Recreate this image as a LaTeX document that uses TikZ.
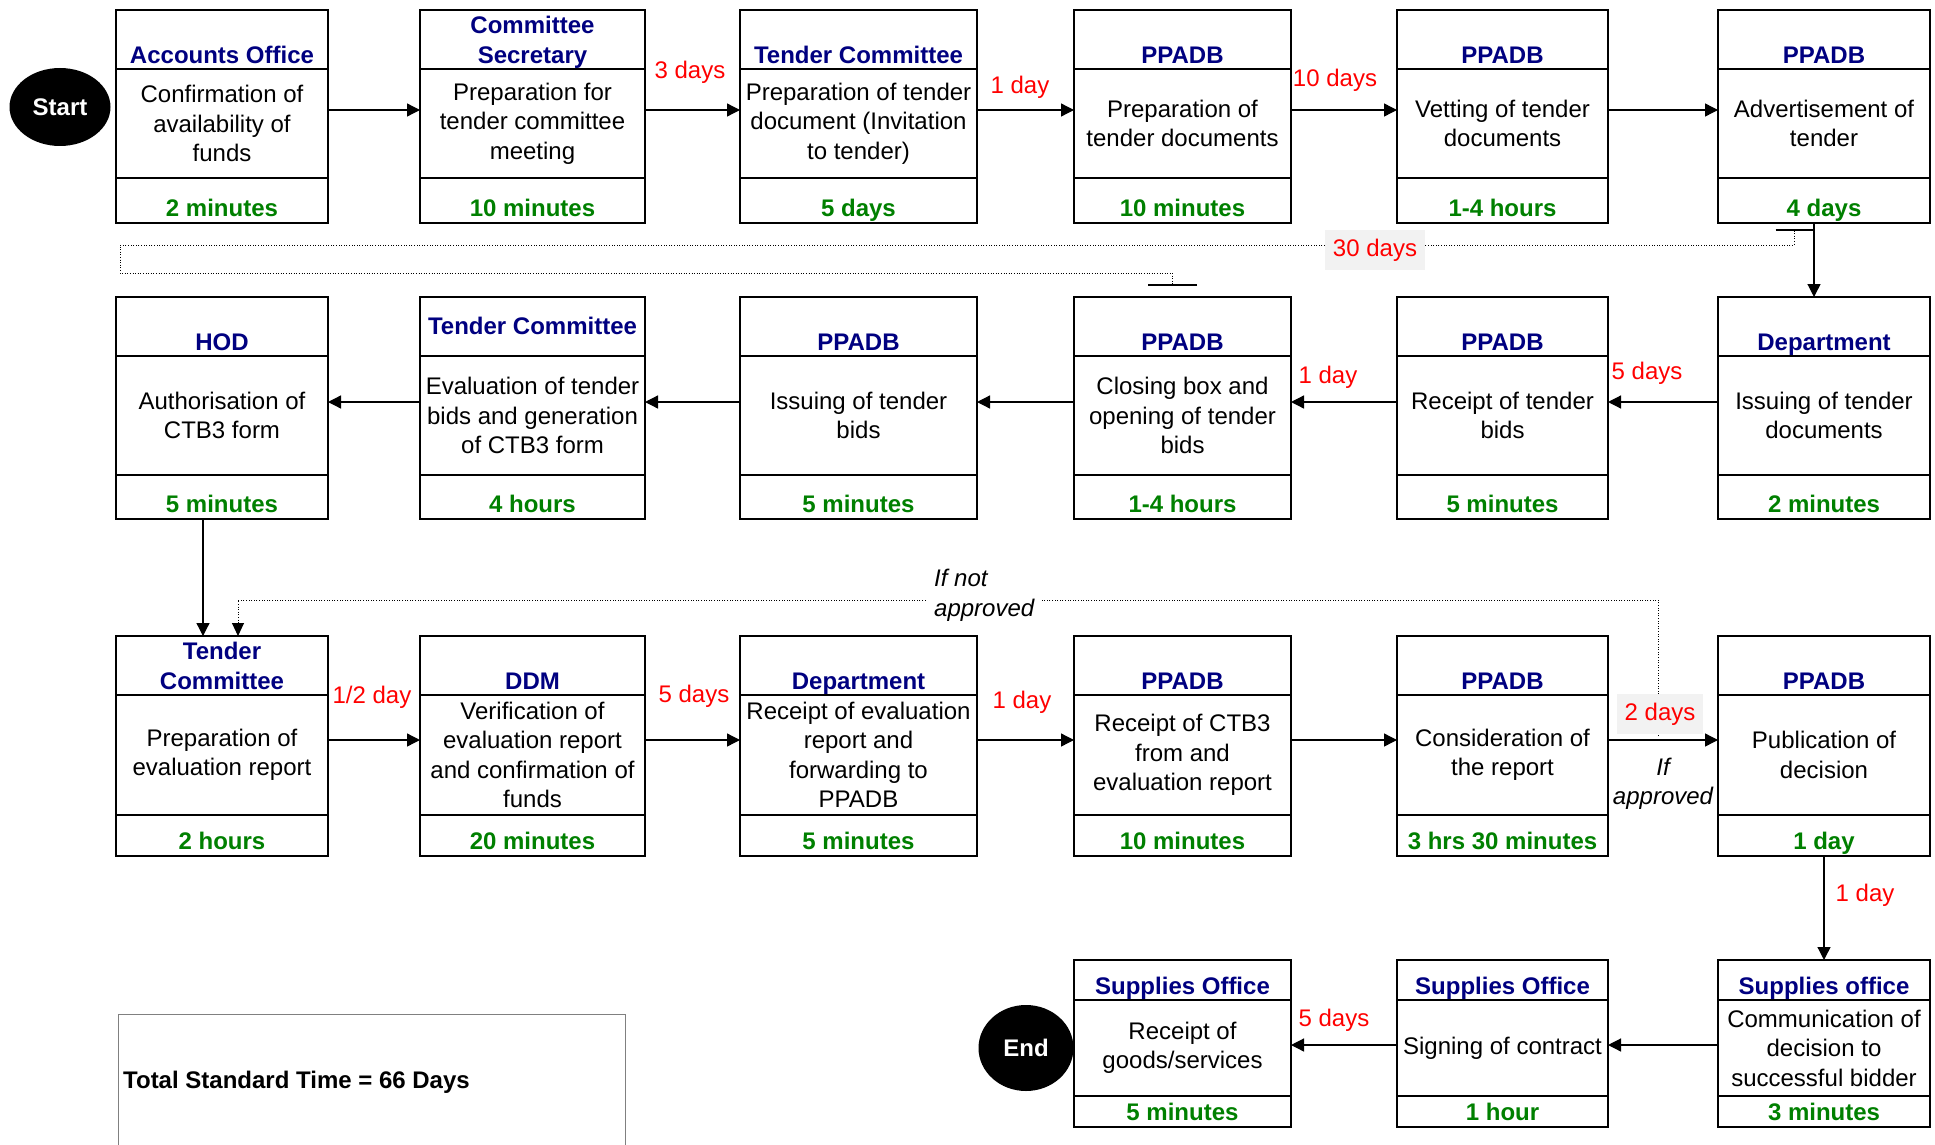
\documentclass[tikz,border=0pt]{standalone}
\usepackage{fontspec}
\setmainfont{Liberation Sans}
\usetikzlibrary{arrows.meta,shapes.geometric,calc}
\definecolor{hdrblue}{RGB}{0,0,128}
\definecolor{ftrgreen}{RGB}{0,128,0}
\definecolor{lblred}{RGB}{255,0,0}
\definecolor{lblbg}{RGB}{242,242,242}

\def\rowAtop{10}\def\rowAhb{69}\def\rowAbb{178}\def\rowAbot{223}
\def\rowBtop{297}\def\rowBhb{356}\def\rowBbb{475}\def\rowBbot{519}
\def\rowCtop{636}\def\rowChb{695}\def\rowCbb{815}\def\rowCbot{856}
\def\rowDtop{960}\def\rowDhb{1000}\def\rowDbb{1096}\def\rowDbot{1127}

\tikzset{
 cell/.style={draw, line width=2.5pt, inner sep=0pt, outer sep=0pt, anchor=north west},
 bodytext/.style={align=center, font=\fontsize{24}{29.5}\selectfont},
 hdrtext/.style={align=center, inner sep=0pt, anchor=south, text depth=0pt, text=hdrblue, font=\fontsize{24}{30}\selectfont\bfseries},
 ftrtext/.style={inner sep=0pt, anchor=south, text depth=0pt, text=ftrgreen, font=\fontsize{24}{29}\selectfont\bfseries},
 arr/.style={line width=1.3pt, -{Triangle[length=13pt,width=13pt]}},
 lbl/.style={text=lblred, font=\fontsize{24}{29}\selectfont, inner sep=0pt},
 greylbl/.style={lbl, fill=lblbg, inner xsep=8pt, inner ysep=9pt},
 dotline/.style={line width=1pt, dash pattern=on 1pt off 1.6pt},
 note/.style={font=\fontsize{24}{29.5}\selectfont\itshape, inner sep=0pt},
 terminal/.style={ellipse, fill=black, text=white, font=\fontsize{24}{29}\selectfont\bfseries, inner sep=0pt},
}

\newcommand\procbox[8][5]{%
 \edef\pbT{\csname row#5top\endcsname}%
 \edef\pbH{\csname row#5hb\endcsname}%
 \edef\pbB{\csname row#5bb\endcsname}%
 \edef\pbE{\csname row#5bot\endcsname}%
 \pgfmathsetmacro\pbW{#4-#3}%
 \pgfmathsetmacro\pbHh{\pbH-\pbT}%
 \pgfmathsetmacro\pbHb{\pbB-\pbH}%
 \pgfmathsetmacro\pbHf{\pbE-\pbB}%
 \node[cell, minimum width=\pbW pt, minimum height=\pbHh pt] (#2-h) at (#3,\pbT) {};
 \node[cell, bodytext, minimum width=\pbW pt, minimum height=\pbHb pt] (#2) at (#3,\pbH) {#7};
 \node[cell, minimum width=\pbW pt, minimum height=\pbHf pt] (#2-f) at (#3,\pbB) {};
 \node[hdrtext] at ([yshift=#1pt]#2-h.south) {#6};
 \node[ftrtext] at ([yshift=6pt]#2-f.south) {#8};
}

\begin{document}
\begin{tikzpicture}[x=1pt,y=-1pt]
\fill[white] (0,0) rectangle (1935,1145);
\useasboundingbox (0,0) rectangle (1935,1145);

% row coordinates for connectors
\coordinate (r1) at (0,110);
\coordinate (r2) at (0,402);
\coordinate (r3) at (0,740);
\coordinate (r4) at (0,1045);

% terminals
\node[terminal, minimum width=101pt, minimum height=78pt] (start) at (60,107) {Start};
\node[terminal, minimum width=95pt, minimum height=86pt] (end) at (1026,1048) {End};

% row 1
\procbox{A1}{116}{328}{A}{Accounts Office}{Confirmation of\\availability of\\funds}{2 minutes}
\procbox{A2}{420}{645}{A}{Committee\\Secretary}{Preparation for\\tender committee\\meeting}{10 minutes}
\procbox{A3}{740}{977}{A}{Tender Committee}{Preparation of tender\\document (Invitation\\to tender)}{5 days}
\procbox{A4}{1074}{1291}{A}{PPADB}{Preparation of\\tender documents}{10 minutes}
\procbox{A5}{1397}{1608}{A}{PPADB}{Vetting of tender\\documents}{1-4 hours}
\procbox{A6}{1718}{1930}{A}{PPADB}{Advertisement of\\tender}{4 days}

% row 2
\procbox{B1}{116}{328}{B}{HOD}{Authorisation of\\CTB3 form}{5 minutes}
\procbox[21]{B2}{420}{645}{B}{Tender Committee}{Evaluation of tender\\bids and generation\\of CTB3 form}{4 hours}
\procbox{B3}{740}{977}{B}{PPADB}{Issuing of tender\\bids}{5 minutes}
\procbox{B4}{1074}{1291}{B}{PPADB}{Closing box and\\opening of tender\\bids}{1-4 hours}
\procbox{B5}{1397}{1608}{B}{PPADB}{Receipt of tender\\bids}{5 minutes}
\procbox{B6}{1718}{1930}{B}{Department}{Issuing of tender\\documents}{2 minutes}

% row 3
\procbox{C1}{116}{328}{C}{Tender\\Committee}{Preparation of\\evaluation report}{2 hours}
\procbox{C2}{420}{645}{C}{DDM}{Verification of\\evaluation report\\and confirmation of\\funds}{20 minutes}
\procbox{C3}{740}{977}{C}{Department}{Receipt of evaluation\\report and\\forwarding to\\PPADB}{5 minutes}
\procbox{C4}{1074}{1291}{C}{PPADB}{Receipt of CTB3\\from and\\evaluation report}{10 minutes}
\procbox{C5}{1397}{1608}{C}{PPADB}{Consideration of\\the report}{3 hrs 30 minutes}
\procbox{C6}{1718}{1930}{C}{PPADB}{Publication of\\decision}{1 day}

% row 4
\procbox{D4}{1074}{1291}{D}{Supplies Office}{Receipt of\\goods/services}{5 minutes}
\procbox{D5}{1397}{1608}{D}{Supplies Office}{Signing of contract}{1 hour}
\procbox{D6}{1718}{1930}{D}{Supplies office}{Communication of\\decision to\\successful bidder}{3 minutes}

% row 1 connectors
\draw[arr] (A1.east |- r1) -- (A2.west |- r1);
\draw[arr] (A2.east |- r1) -- (A3.west |- r1);
\draw[arr] (A3.east |- r1) -- (A4.west |- r1);
\draw[arr] (A4.east |- r1) -- (A5.west |- r1);
\draw[arr] (A5.east |- r1) -- (A6.west |- r1);
\draw[arr] ([xshift=-10pt]A6-f.south) -- ([xshift=-10pt]B6-h.north);

% row 2 connectors
\draw[arr] (B6.west |- r2) -- (B5.east |- r2);
\draw[arr] (B5.west |- r2) -- (B4.east |- r2);
\draw[arr] (B4.west |- r2) -- (B3.east |- r2);
\draw[arr] (B3.west |- r2) -- (B2.east |- r2);
\draw[arr] (B2.west |- r2) -- (B1.east |- r2);
\draw[arr] ([xshift=-19pt]B1-f.south) -- ([xshift=-19pt]C1-h.north);

% row 3 connectors
\draw[arr] (C1.east |- r3) -- (C2.west |- r3);
\draw[arr] (C2.east |- r3) -- (C3.west |- r3);
\draw[arr] (C3.east |- r3) -- (C4.west |- r3);
\draw[arr] (C4.east |- r3) -- (C5.west |- r3);
\draw[arr] (C5.east |- r3) -- (C6.west |- r3);
\draw[arr] (C6-f.south) -- (D6-h.north);

% row 4 connectors
\draw[arr] (D6.west |- r4) -- (D5.east |- r4);
\draw[arr] (D5.west |- r4) -- (D4.east |- r4);

% 30 days dotted connector
\draw[dotline, {Bar[width=37pt,line width=2pt]}-{Bar[width=49pt,line width=2pt]}]
  ([xshift=-30pt,yshift=-6pt]A6-f.south) -- ++(0,16) -| (120,273) -| ([xshift=-10pt,yshift=11pt]B4-h.north);

% if not approved dotted connector
\coordinate (ifna) at (1658,736);
\draw[dotline, -{Triangle[length=13pt,width=12pt]}] (ifna) |- (238,600) -- ([xshift=16pt]C1-h.north);
\node[note, fill=white, align=left, anchor=north west, inner xsep=8pt, inner ysep=0pt] (ifnot) at (926,569) {If not\\approved};
\node[note, align=center] (ifapp) at (1663,784) {If\\approved};

% delay labels
\node[lbl] (l1) at (690,72) {3 days};
\node[lbl] (l2) at (1020,87) {1 day};
\node[lbl] (l3) at (1335,80) {10 days};
\node[greylbl] (l30) at (1375,250) {30 days};
\node[lbl] (l4) at (1647,373) {5 days};
\node[lbl] (l5) at (1328,377) {1 day};
\node[lbl] (l6) at (372,697) {1/2 day};
\node[lbl] (l7) at (694,696) {5 days};
\node[lbl] (l8) at (1022,702) {1 day};
\node[greylbl] (l9) at (1660,714) {2 days};
\node[lbl] (l10) at (1865,895) {1 day};
\node[lbl] (l11) at (1334,1020) {5 days};

% total
\node[draw=gray, line width=1pt, anchor=north west, minimum width=507pt, minimum height=170pt, inner sep=0pt] (totalbox) at (118,1014) {};
\node[font=\fontsize{24}{29}\selectfont\bfseries, anchor=west, inner sep=0pt] (total) at (123,1082) {Total Standard Time = 66 Days};
\end{tikzpicture}
\end{document}
